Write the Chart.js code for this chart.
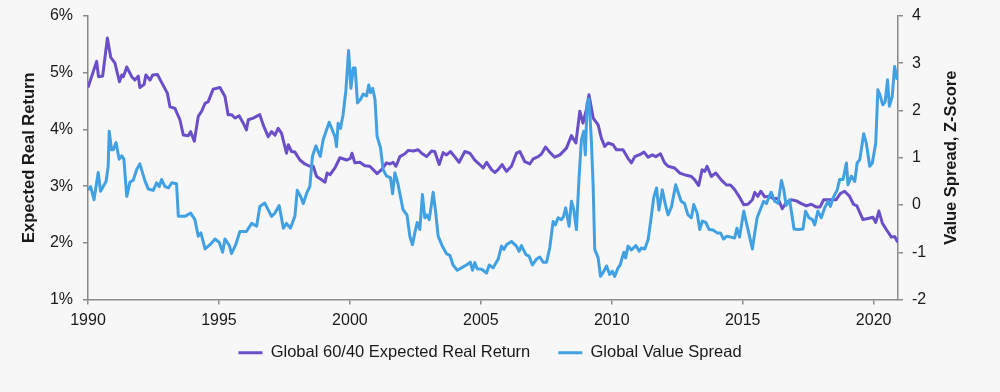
<!DOCTYPE html>
<html>
<head>
<meta charset="utf-8">
<script src="https://cdn.jsdelivr.net/npm/chart.js@4"></script>
<style>
  html, body { margin: 0; padding: 0; background: #f7f7f7; }
  #wrap { width: 1000px; height: 392px; }
</style>
</head>
<body>
<div id="wrap"><canvas id="chart" width="1000" height="392"></canvas></div>
<script>
// Global 60/40 expected real return (%), left axis
const returnYears = [1990.00,1990.33,1990.40,1990.56,1990.74,1990.87,1991.03,1991.20,1991.29,1991.35,1991.48,1991.67,1991.79,1991.92,1991.98,1992.14,1992.21,1992.37,1992.47,1992.65,1992.81,1993.03,1993.13,1993.32,1993.51,1993.64,1993.83,1993.92,1994.06,1994.21,1994.34,1994.47,1994.59,1994.78,1995.04,1995.23,1995.35,1995.48,1995.61,1995.77,1995.93,1996.05,1996.12,1996.31,1996.56,1996.69,1996.88,1997.01,1997.14,1997.26,1997.39,1997.58,1997.65,1997.77,1997.90,1998.09,1998.28,1998.47,1998.60,1998.73,1998.92,1999.05,1999.13,1999.24,1999.43,1999.62,1999.87,2000.02,2000.08,2000.19,2000.38,2000.57,2000.76,2000.89,2001.04,2001.21,2001.40,2001.53,2001.65,2001.76,2001.91,2002.10,2002.23,2002.42,2002.61,2002.74,2002.93,2003.12,2003.24,2003.41,2003.56,2003.69,2003.84,2004.00,2004.17,2004.39,2004.58,2004.77,2004.96,2005.09,2005.22,2005.41,2005.53,2005.66,2005.81,2005.98,2006.17,2006.36,2006.49,2006.68,2006.87,2007.00,2007.19,2007.32,2007.47,2007.63,2007.82,2008.02,2008.27,2008.46,2008.63,2008.78,2008.90,2009.03,2009.13,2009.29,2009.48,2009.60,2009.73,2009.86,2010.05,2010.18,2010.43,2010.62,2010.75,2010.88,2011.13,2011.23,2011.39,2011.55,2011.68,2011.86,2012.02,2012.15,2012.40,2012.60,2012.85,2013.04,2013.17,2013.32,2013.45,2013.55,2013.64,2013.80,2013.97,2014.18,2014.38,2014.53,2014.69,2014.86,2015.04,2015.20,2015.37,2015.46,2015.58,2015.69,2015.84,2016.03,2016.16,2016.35,2016.51,2016.66,2016.86,2017.05,2017.24,2017.43,2017.62,2017.81,2017.95,2018.09,2018.32,2018.57,2018.73,2018.89,2019.08,2019.23,2019.36,2019.59,2019.78,2019.97,2020.08,2020.20,2020.33,2020.49,2020.68,2020.80,2020.92];
const returnValues = [4.74,5.20,4.93,4.94,5.61,5.27,5.17,4.84,4.96,4.93,5.10,4.93,4.87,4.94,4.74,4.79,4.96,4.87,4.96,4.97,4.83,4.64,4.40,4.37,4.17,3.90,3.89,3.96,3.79,4.23,4.32,4.46,4.49,4.71,4.74,4.58,4.26,4.26,4.20,4.24,4.11,3.99,4.17,4.20,4.26,4.08,3.87,3.96,3.90,4.02,3.93,3.58,3.73,3.61,3.60,3.46,3.39,3.35,3.35,3.17,3.11,3.07,3.23,3.20,3.32,3.50,3.46,3.49,3.58,3.41,3.42,3.36,3.35,3.29,3.22,3.29,3.41,3.39,3.42,3.35,3.52,3.57,3.63,3.62,3.64,3.58,3.52,3.62,3.61,3.38,3.59,3.55,3.61,3.52,3.42,3.61,3.58,3.46,3.38,3.32,3.42,3.29,3.24,3.29,3.38,3.26,3.35,3.58,3.61,3.43,3.39,3.48,3.52,3.57,3.69,3.60,3.51,3.55,3.67,3.89,3.76,4.32,4.11,4.35,4.61,4.20,4.08,3.85,3.70,3.76,3.73,3.64,3.64,3.49,3.41,3.52,3.57,3.60,3.51,3.55,3.52,3.57,3.41,3.35,3.32,3.23,3.19,3.17,3.11,3.01,3.29,3.26,3.35,3.17,3.23,3.11,3.02,3.02,2.94,2.82,2.67,2.68,2.76,2.89,2.82,2.91,2.81,2.82,2.78,2.78,2.60,2.71,2.76,2.74,2.69,2.65,2.68,2.63,2.63,2.76,2.76,2.76,2.87,2.91,2.82,2.68,2.65,2.41,2.43,2.45,2.36,2.56,2.35,2.23,2.10,2.11,2.01];

// Global value spread (z-score), right axis
const spreadYears = [1990.00,1990.10,1990.23,1990.39,1990.48,1990.69,1990.77,1990.81,1990.90,1990.97,1991.07,1991.19,1991.29,1991.37,1991.48,1991.60,1991.73,1991.86,1991.98,1992.18,1992.30,1992.49,1992.62,1992.72,1992.81,1992.94,1993.07,1993.20,1993.38,1993.45,1993.70,1993.92,1994.08,1994.21,1994.31,1994.47,1994.66,1994.85,1995.01,1995.14,1995.23,1995.40,1995.48,1995.64,1995.80,1996.05,1996.25,1996.44,1996.56,1996.75,1997.01,1997.14,1997.30,1997.46,1997.58,1997.73,1997.90,1997.99,1998.12,1998.22,1998.35,1998.47,1998.57,1998.70,1998.87,1998.98,1999.21,1999.43,1999.49,1999.55,1999.64,1999.74,1999.85,1999.95,2000.04,2000.13,2000.20,2000.29,2000.40,2000.51,2000.64,2000.72,2000.79,2000.87,2000.96,2001.04,2001.17,2001.27,2001.40,2001.55,2001.63,2001.72,2001.84,2001.93,2002.03,2002.18,2002.29,2002.39,2002.48,2002.57,2002.67,2002.77,2002.86,2002.94,2003.03,2003.18,2003.28,2003.37,2003.53,2003.69,2003.82,2003.94,2004.10,2004.26,2004.45,2004.60,2004.68,2004.77,2004.86,2005.03,2005.22,2005.32,2005.47,2005.66,2005.79,2005.88,2005.98,2006.17,2006.36,2006.46,2006.55,2006.72,2006.84,2006.97,2007.12,2007.25,2007.38,2007.51,2007.63,2007.76,2007.85,2007.95,2008.08,2008.16,2008.24,2008.37,2008.46,2008.55,2008.65,2008.75,2008.84,2008.93,2008.99,2009.06,2009.13,2009.22,2009.29,2009.35,2009.48,2009.57,2009.70,2009.80,2009.92,2010.02,2010.11,2010.24,2010.32,2010.46,2010.53,2010.62,2010.75,2010.92,2011.05,2011.13,2011.26,2011.39,2011.51,2011.60,2011.71,2011.80,2011.93,2012.06,2012.15,2012.28,2012.44,2012.52,2012.65,2012.78,2012.91,2013.04,2013.13,2013.26,2013.36,2013.46,2013.59,2013.72,2013.87,2014.02,2014.15,2014.27,2014.39,2014.55,2014.69,2014.78,2014.88,2015.04,2015.20,2015.37,2015.46,2015.55,2015.67,2015.80,2015.91,2016.01,2016.09,2016.22,2016.35,2016.48,2016.57,2016.66,2016.79,2016.96,2017.11,2017.30,2017.40,2017.53,2017.66,2017.75,2017.87,2018.00,2018.13,2018.26,2018.35,2018.45,2018.61,2018.70,2018.83,2018.96,2019.02,2019.15,2019.28,2019.37,2019.47,2019.62,2019.72,2019.85,2019.95,2020.08,2020.16,2020.24,2020.35,2020.44,2020.53,2020.60,2020.71,2020.80,2020.90];
const spreadValues = [0.32,0.39,0.11,0.69,0.29,0.50,0.82,1.56,1.17,1.17,1.32,0.97,1.04,0.97,0.18,0.48,0.53,0.75,0.87,0.50,0.34,0.31,0.47,0.39,0.54,0.39,0.36,0.47,0.45,-0.24,-0.24,-0.17,-0.31,-0.66,-0.59,-0.93,-0.84,-0.72,-0.79,-1.00,-0.72,-0.86,-1.03,-0.84,-0.56,-0.56,-0.39,-0.45,-0.03,0.04,-0.24,-0.17,-0.01,-0.49,-0.39,-0.49,-0.24,0.31,0.18,0.03,0.25,0.39,1.03,1.25,1.03,1.38,1.75,1.45,1.24,1.73,1.62,1.91,2.44,3.27,2.47,2.90,2.90,2.16,2.23,2.35,2.31,2.54,2.38,2.47,2.23,1.45,1.21,0.75,0.61,0.58,0.24,0.68,0.44,0.18,-0.10,-0.21,-0.66,-0.84,-0.59,-0.37,-0.52,0.22,-0.27,-0.21,-0.31,0.27,-0.17,-0.66,-0.87,-1.03,-1.07,-1.27,-1.38,-1.33,-1.27,-1.21,-1.38,-1.22,-1.35,-1.36,-1.44,-1.27,-1.33,-1.15,-0.87,-0.94,-0.84,-0.77,-0.87,-0.98,-0.86,-1.05,-1.08,-1.27,-1.15,-1.10,-1.21,-1.21,-0.91,-0.35,-0.42,-0.27,-0.31,-0.24,-0.06,-0.45,0.08,-0.10,-0.52,0.57,1.38,1.56,1.06,2.16,2.25,1.38,0.39,-0.94,-1.12,-1.51,-1.40,-1.29,-1.47,-1.40,-1.51,-1.33,-1.27,-1.00,-1.12,-0.87,-0.95,-0.86,-0.98,-0.91,-0.93,-0.73,-0.24,0.15,0.36,-0.11,0.32,-0.02,-0.21,-0.04,0.43,0.29,0.08,0.03,-0.21,-0.27,0.01,-0.17,-0.52,-0.34,-0.37,-0.52,-0.53,-0.59,-0.59,-0.72,-0.66,-0.68,-0.70,-0.49,-0.68,-0.13,-0.52,-0.93,-0.59,-0.27,-0.10,0.08,0.03,0.18,0.27,0.08,0.04,0.52,0.32,-0.01,0.11,-0.51,-0.52,-0.51,-0.13,-0.27,-0.31,-0.42,-0.13,-0.27,-0.06,0.08,-0.03,0.15,0.32,0.54,0.54,0.89,0.43,0.61,0.50,0.89,0.96,1.51,1.31,0.82,0.89,1.31,2.44,2.33,2.12,2.19,2.65,2.09,2.30,2.93,2.65];

const xTickValues = [1990, 1995, 2000, 2005, 2010, 2015, 2020];
const seriesNames = ['Global 60/40 Expected Real Return', 'Global Value Spread'];
const leftTitle = 'Expected Real Return';
const rightTitle = 'Value Spread, Z-Score';

const purple = '#6a4fc8';
const blue = '#41a1e3';
const axisGrey = '#8a8a8a';
const textColor = '#1a1a1a';
const fontFamily = '"Liberation Sans", Arial, sans-serif';

Chart.defaults.font.family = fontFamily;
Chart.defaults.font.size = 16;
Chart.defaults.color = textColor;

const toPoints = (xs, ys) => xs.map((x, i) => ({ x: x, y: ys[i] }));

// right title reads bottom-to-top in the original, chart.js would rotate it the other way
const rightTitlePlugin = {
  id: 'rightTitle',
  afterDraw(chart) {
    const { ctx, chartArea } = chart;
    ctx.save();
    ctx.translate(951, (chartArea.top + chartArea.bottom) / 2);
    ctx.rotate(-Math.PI / 2);
    ctx.font = 'bold 16.5px ' + fontFamily;
    ctx.fillStyle = textColor;
    ctx.textAlign = 'center';
    ctx.textBaseline = 'middle';
    ctx.fillText(rightTitle, 0, 0);
    ctx.restore();
  }
};

// legend needs wide item spacing but sits close under the x labels
const legendShift = {
  id: 'legendShift',
  afterLayout(chart) {
    chart.legend.top -= 18;
    chart.legend.bottom -= 18;
  }
};

const axisGrid = { display: true, drawOnChartArea: false, drawTicks: true, tickLength: 5, color: axisGrey, lineWidth: 1.5 };
const axisBorder = { display: true, color: axisGrey, width: 1.5 };

const fixWidth = w => scale => {
  scale.width = w;
  scale.paddingTop = 0;
  scale.paddingBottom = 0;
};

new Chart(document.getElementById('chart'), {
  type: 'line',
  data: {
    datasets: [
      {
        label: seriesNames[0],
        data: toPoints(returnYears, returnValues),
        yAxisID: 'yLeft',
        borderColor: purple,
        backgroundColor: purple,
        borderWidth: 3,
        pointRadius: 0,
        tension: 0,
        borderJoinStyle: 'round',
        order: 2
      },
      {
        label: seriesNames[1],
        data: toPoints(spreadYears, spreadValues),
        yAxisID: 'yRight',
        borderColor: blue,
        backgroundColor: blue,
        borderWidth: 3,
        pointRadius: 0,
        tension: 0,
        borderJoinStyle: 'round',
        order: 1
      }
    ]
  },
  options: {
    responsive: false,
    animation: false,
    layout: { padding: { top: 16, bottom: 3, left: 0, right: 20 } },
    plugins: {
      tooltip: { enabled: false },
      legend: {
        position: 'bottom',
        labels: {
          usePointStyle: true,
          pointStyle: 'line',
          pointStyleWidth: 24,
          padding: 28,
          font: { size: 16.5 },
          color: textColor,
          sort: (a, b) => a.datasetIndex - b.datasetIndex
        }
      }
    },
    scales: {
      x: {
        type: 'linear',
        min: 1990,
        max: 2020.93,
        grid: axisGrid,
        border: axisBorder,
        ticks: {
          padding: 6,
          maxRotation: 0,
          autoSkip: false,
          callback: v => String(v)
        },
        afterBuildTicks: scale => {
          scale.ticks = xTickValues.map(v => ({ value: v }));
        },
        afterFit: scale => { scale.height = 35; }
      },
      yLeft: {
        position: 'left',
        min: 1,
        max: 6,
        grid: axisGrid,
        border: axisBorder,
        ticks: { stepSize: 1, padding: 10, callback: v => v + '%' },
        title: {
          display: true,
          text: leftTitle,
          font: { size: 16.5, weight: 'bold' },
          padding: { top: 20, bottom: 0 }
        },
        afterFit: fixWidth(88)
      },
      yRight: {
        position: 'right',
        min: -2,
        max: 4,
        grid: axisGrid,
        border: axisBorder,
        ticks: { stepSize: 1, padding: 9 },
        afterFit: fixWidth(82)
      }
    }
  },
  plugins: [rightTitlePlugin, legendShift]
});
</script>
</body>
</html>
